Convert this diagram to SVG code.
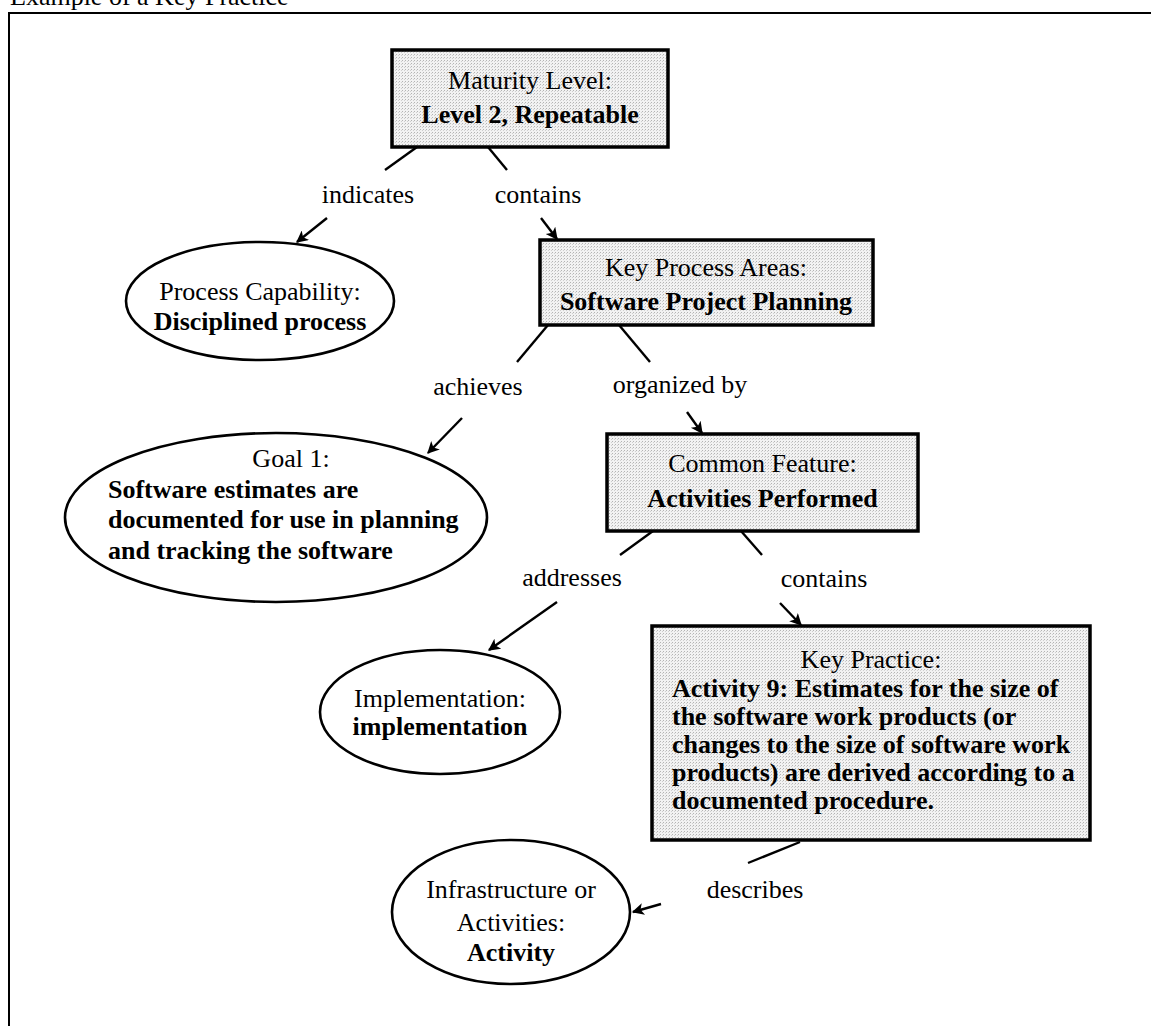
<svg xmlns="http://www.w3.org/2000/svg" width="1151" height="1026" viewBox="0 0 1151 1026">
  <style>
    text { font-family: "Liberation Serif", "Times New Roman", serif; font-size: 26px; fill: #000; }
    .b { font-weight: bold; }
    .c { text-anchor: middle; }
    .box { fill: url(#halftone); stroke: #000; stroke-width: 3.5; }
    .oval { fill: #fff; stroke: #000; stroke-width: 2.6; }
    .link { stroke: #000; stroke-width: 2.4; fill: none; }
    .arrow { stroke: #000; stroke-width: 2.4; fill: none; marker-end: url(#head); }
  </style>
  <defs>
    <!-- light dotted screen used inside the rectangular nodes -->
    <pattern id="halftone" width="3" height="3" patternUnits="userSpaceOnUse">
      <rect width="3" height="3" fill="#f2f2f2"/>
      <rect x="0" y="0" width="1" height="1" fill="#b4b4b4"/>
      <rect x="2" y="1" width="1" height="1" fill="#cfcfcf"/>
    </pattern>
    <marker id="head" viewBox="0 0 10 10" refX="9" refY="5" markerWidth="6" markerHeight="5" markerUnits="strokeWidth" orient="auto">
      <path d="M0,0 L10,5 L0,10 L2.5,5 Z" fill="#000"/>
    </marker>
  </defs>

  <rect width="1151" height="1026" fill="#fff"/>

  <!-- caption and frame -->
  <text x="10" y="5">Example of a Key Practice</text>
  <rect x="9" y="13" width="1160" height="1040" fill="none" stroke="#000" stroke-width="2"/>

  <!-- connectors and their labels -->
  <g id="connectors">
    <line class="link" x1="417" y1="147" x2="385" y2="170"/>
    <line class="link" x1="488" y1="147" x2="507" y2="170"/>
    <text class="c" x="368" y="203">indicates</text>
    <text class="c" x="538" y="203">contains</text>
    <line class="arrow" x1="327" y1="218" x2="297" y2="242"/>
    <line class="arrow" x1="541" y1="218" x2="557" y2="239"/>

    <line class="link" x1="548" y1="325" x2="517" y2="362"/>
    <line class="link" x1="619" y1="325" x2="650" y2="362"/>
    <text class="c" x="478" y="395">achieves</text>
    <text class="c" x="680" y="393">organized by</text>
    <line class="arrow" x1="462" y1="418" x2="428" y2="453"/>
    <line class="arrow" x1="687" y1="412" x2="702" y2="433"/>

    <line class="link" x1="653" y1="531" x2="620" y2="555"/>
    <line class="link" x1="741" y1="531" x2="762" y2="555"/>
    <text class="c" x="572" y="586">addresses</text>
    <text class="c" x="824" y="587">contains</text>
    <line class="arrow" x1="557" y1="602" x2="489" y2="650"/>
    <line class="arrow" x1="780" y1="603" x2="801" y2="625"/>

    <line class="link" x1="800" y1="842" x2="748" y2="863"/>
    <text class="c" x="755" y="898">describes</text>
    <line class="arrow" x1="661" y1="904" x2="633" y2="912"/>
  </g>

  <!-- nodes -->
  <g id="maturity-level">
    <rect class="box" x="392" y="50" width="276" height="97"/>
    <text class="c" x="530" y="89">Maturity Level:</text>
    <text class="c b" x="530" y="123">Level 2, Repeatable</text>
  </g>

  <g id="process-capability">
    <ellipse class="oval" cx="260" cy="301" rx="134" ry="59"/>
    <text class="c" x="260" y="300">Process Capability:</text>
    <text class="c b" x="260" y="330">Disciplined process</text>
  </g>

  <g id="key-process-areas">
    <rect class="box" x="540" y="240" width="333" height="85"/>
    <text class="c" x="706" y="276">Key Process Areas:</text>
    <text class="c b" x="706" y="310">Software Project Planning</text>
  </g>

  <g id="goal">
    <ellipse class="oval" cx="276" cy="517.5" rx="211" ry="84.5"/>
    <text class="c" x="291" y="467">Goal 1:</text>
    <text class="b" x="108" y="498">Software estimates are</text>
    <text class="b" x="108" y="528">documented for use in planning</text>
    <text class="b" x="108" y="559">and tracking the software</text>
  </g>

  <g id="common-feature">
    <rect class="box" x="607" y="434" width="311" height="97"/>
    <text class="c" x="762.5" y="472">Common Feature:</text>
    <text class="c b" x="762.5" y="507">Activities Performed</text>
  </g>

  <g id="implementation">
    <ellipse class="oval" cx="440" cy="712" rx="120" ry="62"/>
    <text class="c" x="440" y="707">Implementation:</text>
    <text class="c b" x="440" y="735">implementation</text>
  </g>

  <g id="key-practice">
    <rect class="box" x="652" y="626" width="438" height="214"/>
    <text class="c" x="871" y="668">Key Practice:</text>
    <text class="b" x="672" y="697">Activity 9: Estimates for the size of</text>
    <text class="b" x="672" y="725">the software work products (or</text>
    <text class="b" x="672" y="753">changes to the size of software work</text>
    <text class="b" x="672" y="781">products) are derived according to a</text>
    <text class="b" x="672" y="809">documented procedure.</text>
  </g>

  <g id="infrastructure">
    <ellipse class="oval" cx="511" cy="912" rx="119" ry="72"/>
    <text class="c" x="511" y="898">Infrastructure or</text>
    <text class="c" x="511" y="931">Activities:</text>
    <text class="c b" x="511" y="961">Activity</text>
  </g>
</svg>
